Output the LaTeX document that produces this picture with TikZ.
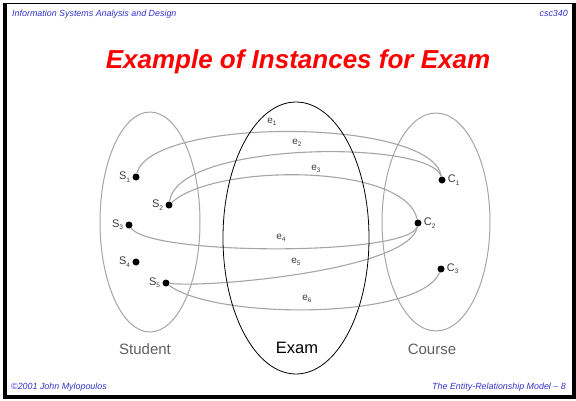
\documentclass[tikz,border=0pt]{standalone}
\usepackage{fontspec}
\setmainfont{Liberation Sans}
\usetikzlibrary{shapes.geometric}
\definecolor{hdrblue}{RGB}{51,51,204}
\definecolor{linegray}{RGB}{165,165,165}
\definecolor{lblgray}{RGB}{60,60,60}
\definecolor{setgray}{RGB}{95,95,95}
\newcommand{\sbs}[1]{\raisebox{-0.4ex}{\fontsize{6.5}{6.5}\selectfont #1}}
\tikzset{
  dot/.style={circle, fill=black, inner sep=0pt, minimum size=7pt},
  setbox/.style={ellipse, draw=linegray, line width=1pt, inner sep=0pt},
  rel/.style={draw=linegray, line width=1.1pt},
  lbl/.style={text=lblgray, font=\fontsize{11}{11}\selectfont, inner sep=1pt},
  elbl/.style={text=lblgray, font=\fontsize{10}{10}\selectfont, inner sep=0pt},
  hdr/.style={text=hdrblue, font=\itshape\fontsize{8.9}{9}\selectfont, inner sep=0pt},
  setname/.style={text=setgray, font=\fontsize{15}{15}\selectfont, inner sep=0pt, anchor=base}
}
\begin{document}
\begin{tikzpicture}[x=1pt,y=-1pt]
\useasboundingbox (0,0) rectangle (576,400);
% frame
\draw[line width=1pt] (4.5,3.5) -- (573,3.5);
\fill[black] (3,3) rectangle (6.5,398.5);
\fill[black] (3,395) rectangle (575.5,398.5);
\fill[black] (572,3) rectangle (575.5,398.5);
% header / footer
\node[hdr, anchor=base west] (h1) at (12,16) {Information Systems Analysis and Design};
\node[hdr, anchor=base east] (h2) at (568,16) {csc340};
\node[hdr, anchor=base west] (f1) at (11,389) {©2001 John Mylopoulos};
\node[hdr, anchor=base east] (f2) at (566,389) {The Entity-Relationship Model – 8};
% title
\node[anchor=base, text=red, font=\bfseries\itshape\fontsize{26}{30}\selectfont, inner sep=0pt] (title) at (298,68) {Example of Instances for Exam};
% sets
\node[setbox, minimum width=100pt, minimum height=220pt] (student) at (150,222) {};
\node[setbox, minimum width=108pt, minimum height=218pt] (course) at (436,222) {};
\node[setname] (studentname) at (145,354) {Student};
\node[setname] (coursename) at (432,354) {Course};
% instances
\node[dot, label={[lbl,label distance=1pt]left:S\sbs{1}}] (s1) at (136,177) {};
\node[dot, label={[lbl,label distance=1pt]left:S\sbs{2}}] (s2) at (169,205) {};
\node[dot, label={[lbl,label distance=1pt]left:S\sbs{3}}] (s3) at (129,225) {};
\node[dot, label={[lbl,label distance=1pt]left:S\sbs{4}}] (s4) at (136,262) {};
\node[dot, label={[lbl,label distance=1pt]left:S\sbs{5}}] (s5) at (166,283) {};
\node[dot, label={[lbl,label distance=1pt]right:C\sbs{1}}] (c1) at (442,180) {};
\node[dot, label={[lbl,label distance=1pt]right:C\sbs{2}}] (c2) at (418,223) {};
\node[dot, label={[lbl,label distance=1pt]right:C\sbs{3}}] (c3) at (441,269) {};
% relationship instances
\draw[rel] (s1) .. controls (150,117) and (432,117) .. (c1);
\draw[rel] (s2) .. controls (178,140) and (432,140) .. (c1);
\draw[rel] (s2) .. controls (215,163) and (405,163) .. (c2);
\draw[rel] (s3) .. controls (150,256) and (410,256) .. (c2);
\draw[rel] (s5) .. controls (210,288) and (410,270) .. (c2);
\draw[rel] (s5) .. controls (215,320) and (420,320) .. (c3);
\node[elbl] (e1) at (272,122) {e\sbs{1}};
\node[elbl] (e2) at (297,143) {e\sbs{2}};
\node[elbl] (e3) at (316,169) {e\sbs{3}};
\node[elbl] (e4) at (281,238) {e\sbs{4}};
\node[elbl] (e5) at (296,262) {e\sbs{5}};
\node[elbl] (e6) at (307,299) {e\sbs{6}};
% exam
\node[ellipse, draw=black, line width=0.8pt, minimum width=146pt, minimum height=272pt, inner sep=0pt] (exam) at (296,238) {};
\node[anchor=base, font=\fontsize{16.5}{17}\selectfont, inner sep=0pt] (examname) at (297,353) {Exam};
\end{tikzpicture}
\end{document}
